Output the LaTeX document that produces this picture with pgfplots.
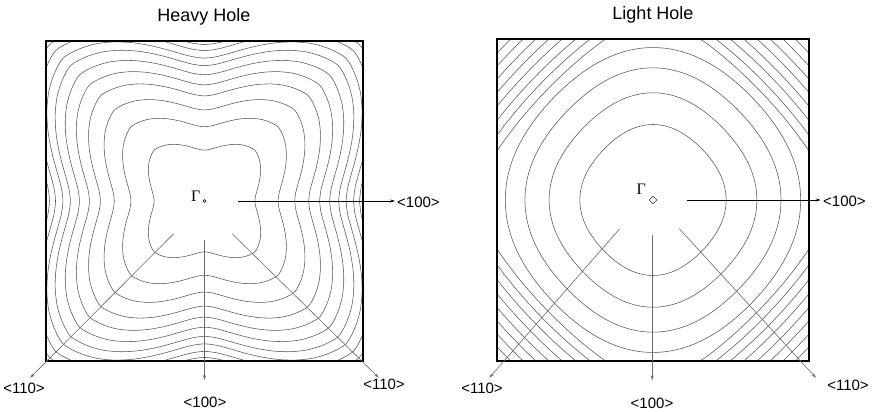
\documentclass[border=0pt]{standalone}
\usepackage{pgfplots}
\pgfplotsset{compat=1.18}
\usepackage{pgfplotstable}
\usepackage{fontspec}
\setmainfont{Liberation Sans}
\newfontfamily\serif{Liberation Serif}
\usetikzlibrary{arrows.meta}
\definecolor{cont}{HTML}{555555}
\definecolor{arr}{HTML}{6A6A6A}

% unit heavy-hole contour shape (axis radius = 1)
\pgfplotstableread{
x y
1.0000 0.0000
1.0107 0.0885
1.0354 0.1825
1.0645 0.2852
1.0907 0.3970
1.1087 0.5170
1.1134 0.6428
1.0994 0.7698
1.0615 0.8907
0.9994 0.9994
0.8907 1.0615
0.7698 1.0994
0.6428 1.1134
0.5170 1.1087
0.3970 1.0907
0.2852 1.0645
0.1825 1.0354
0.0885 1.0107
0.0000 1.0000
-0.0885 1.0107
-0.1825 1.0354
-0.2852 1.0645
-0.3970 1.0907
-0.5170 1.1087
-0.6428 1.1134
-0.7698 1.0994
-0.8907 1.0615
-0.9994 0.9994
-1.0615 0.8907
-1.0994 0.7698
-1.1134 0.6428
-1.1087 0.5170
-1.0907 0.3970
-1.0645 0.2852
-1.0354 0.1825
-1.0107 0.0885
-1.0000 0.0000
-1.0107 -0.0885
-1.0354 -0.1825
-1.0645 -0.2852
-1.0907 -0.3970
-1.1087 -0.5170
-1.1134 -0.6428
-1.0994 -0.7698
-1.0615 -0.8907
-0.9994 -0.9994
-0.8907 -1.0615
-0.7698 -1.0994
-0.6428 -1.1134
-0.5170 -1.1087
-0.3970 -1.0907
-0.2852 -1.0645
-0.1825 -1.0354
-0.0885 -1.0107
0.0000 -1.0000
0.0885 -1.0107
0.1825 -1.0354
0.2852 -1.0645
0.3970 -1.0907
0.5170 -1.1087
0.6428 -1.1134
0.7698 -1.0994
0.8907 -1.0615
0.9994 -0.9994
1.0615 -0.8907
1.0994 -0.7698
1.1134 -0.6428
1.1087 -0.5170
1.0907 -0.3970
1.0645 -0.2852
1.0354 -0.1825
1.0107 -0.0885
1.0000 0.0000
}\hhshape

% unit light-hole inner contour shape (rounded)
\pgfplotstableread{
x y
1.0000 0.0000
0.9947 0.0871
0.9790 0.1726
0.9538 0.2556
0.9203 0.3349
0.8797 0.4102
0.8335 0.4813
0.7830 0.5483
0.7289 0.6116
0.6718 0.6718
0.6116 0.7289
0.5483 0.7830
0.4813 0.8335
0.4102 0.8797
0.3349 0.9203
0.2556 0.9538
0.1726 0.9790
0.0871 0.9947
0.0000 1.0000
-0.0871 0.9947
-0.1726 0.9790
-0.2556 0.9538
-0.3349 0.9203
-0.4102 0.8797
-0.4813 0.8335
-0.5483 0.7830
-0.6116 0.7289
-0.6718 0.6718
-0.7289 0.6116
-0.7830 0.5483
-0.8335 0.4813
-0.8797 0.4102
-0.9203 0.3349
-0.9538 0.2556
-0.9790 0.1726
-0.9947 0.0871
-1.0000 0.0000
-0.9947 -0.0871
-0.9790 -0.1726
-0.9538 -0.2556
-0.9203 -0.3349
-0.8797 -0.4102
-0.8335 -0.4813
-0.7830 -0.5483
-0.7289 -0.6116
-0.6718 -0.6718
-0.6116 -0.7289
-0.5483 -0.7830
-0.4813 -0.8335
-0.4102 -0.8797
-0.3349 -0.9203
-0.2556 -0.9538
-0.1726 -0.9790
-0.0871 -0.9947
0.0000 -1.0000
0.0871 -0.9947
0.1726 -0.9790
0.2556 -0.9538
0.3349 -0.9203
0.4102 -0.8797
0.4813 -0.8335
0.5483 -0.7830
0.6116 -0.7289
0.6718 -0.6718
0.7289 -0.6116
0.7830 -0.5483
0.8335 -0.4813
0.8797 -0.4102
0.9203 -0.3349
0.9538 -0.2556
0.9790 -0.1726
0.9947 -0.0871
1.0000 0.0000
}\lhround

% unit light-hole outer contour shape (diamond-like)
\pgfplotstableread{
x y
1.0000 0.0000
0.9843 0.0861
0.9478 0.1671
0.9031 0.2420
0.8553 0.3113
0.8064 0.3760
0.7568 0.4369
0.7065 0.4947
0.6556 0.5501
0.6035 0.6035
0.5501 0.6556
0.4947 0.7065
0.4369 0.7568
0.3760 0.8064
0.3113 0.8553
0.2420 0.9031
0.1671 0.9478
0.0861 0.9843
0.0000 1.0000
-0.0861 0.9843
-0.1671 0.9478
-0.2420 0.9031
-0.3113 0.8553
-0.3760 0.8064
-0.4369 0.7568
-0.4947 0.7065
-0.5501 0.6556
-0.6035 0.6035
-0.6556 0.5501
-0.7065 0.4947
-0.7568 0.4369
-0.8064 0.3760
-0.8553 0.3113
-0.9031 0.2420
-0.9478 0.1671
-0.9843 0.0861
-1.0000 0.0000
-0.9843 -0.0861
-0.9478 -0.1671
-0.9031 -0.2420
-0.8553 -0.3113
-0.8064 -0.3760
-0.7568 -0.4369
-0.7065 -0.4947
-0.6556 -0.5501
-0.6035 -0.6035
-0.5501 -0.6556
-0.4947 -0.7065
-0.4369 -0.7568
-0.3760 -0.8064
-0.3113 -0.8553
-0.2420 -0.9031
-0.1671 -0.9478
-0.0861 -0.9843
0.0000 -1.0000
0.0861 -0.9843
0.1671 -0.9478
0.2420 -0.9031
0.3113 -0.8553
0.3760 -0.8064
0.4369 -0.7568
0.4947 -0.7065
0.5501 -0.6556
0.6035 -0.6035
0.6556 -0.5501
0.7065 -0.4947
0.7568 -0.4369
0.8064 -0.3760
0.8553 -0.3113
0.9031 -0.2420
0.9478 -0.1671
0.9843 -0.0861
1.0000 0.0000
}\lhshape

\begin{document}
\begin{tikzpicture}
\useasboundingbox (0pt,0pt) rectangle (873pt,412pt);
% ---------------- Heavy hole ----------------
\begin{axis}[at={(46pt,51pt)}, anchor=south west, scale only axis,
  width=317pt, height=320pt, xmin=-1, xmax=1, ymin=-1, ymax=1,
  xtick=\empty, ytick=\empty, axis on top,
  axis line style={line width=1.1pt, black}]
\pgfplotsinvokeforeach{0.318,0.464,0.569,0.657,0.726,0.789,0.846,0.893,0.940,0.978}{
  \addplot[no marks, smooth, cont, line width=0.55pt]
    table[x expr=\thisrow{x}*#1, y expr=\thisrow{y}*#1] {\hhshape};
}
\addplot[only marks, mark=o, mark size=1.5pt, black, line width=0.4pt] coordinates {(0,0)};
\coordinate (hR0) at (axis cs:0.211,0);
\coordinate (hR1) at (axis cs:1.202,0);
\coordinate (hL0) at (axis cs:-0.195,-0.205);
\coordinate (hL1) at (axis cs:-1.10,-1.105);
\coordinate (hM0) at (axis cs:0,-0.244);
\coordinate (hM1) at (axis cs:0,-1.12);
\coordinate (hD0) at (axis cs:0.175,-0.205);
\coordinate (hD1) at (axis cs:1.10,-1.105);
\coordinate (hG) at (axis cs:-0.055,0.03);
\end{axis}
% ---------------- Light hole ----------------
\begin{axis}[at={(497pt,51pt)}, anchor=south west, scale only axis,
  width=312pt, height=322pt, xmin=-1, xmax=1, ymin=-1, ymax=1,
  xtick=\empty, ytick=\empty, axis on top,
  axis line style={line width=1.1pt, black}]
\pgfplotsinvokeforeach{0.469,0.666,0.821,0.947}{
  \addplot[no marks, smooth, cont, line width=0.55pt]
    table[x expr=\thisrow{x}*#1, y expr=\thisrow{y}*#1] {\lhround};
}
\pgfplotsinvokeforeach{1.130,1.195,1.260,1.325,1.390,1.455,1.520,1.585}{
  \addplot[no marks, smooth, cont, line width=0.55pt]
    table[x expr=\thisrow{x}*#1, y expr=\thisrow{y}*#1] {\lhshape};
}
\addplot[only marks, mark=square, mark size=2.7pt, mark options={rotate=45}, black, line width=0.4pt] coordinates {(0,0)};
\coordinate (lR0) at (axis cs:0.218,0);
\coordinate (lR1) at (axis cs:1.075,0);
\coordinate (lL0) at (axis cs:-0.215,-0.18);
\coordinate (lL1) at (axis cs:-1.05,-1.105);
\coordinate (lM0) at (axis cs:-0.005,-0.217);
\coordinate (lM1) at (axis cs:-0.005,-1.12);
\coordinate (lD0) at (axis cs:0.168,-0.178);
\coordinate (lD1) at (axis cs:1.045,-1.105);
\coordinate (lG) at (axis cs:-0.075,0.065);
\end{axis}
% arrows
\tikzset{ar/.style={-{Stealth[length=5pt,width=3pt]}, line width=0.6pt}}
\draw[ar, black] (hR0) -- (hR1);
\draw[ar, arr] (hL0) -- (hL1);
\draw[ar, arr] (hM0) -- (hM1);
\draw[ar, arr] (hD0) -- (hD1);
\draw[ar, black] (lR0) -- (lR1);
\draw[ar, arr] (lL0) -- (lL1);
\draw[ar, arr] (lM0) -- (lM1);
\draw[ar, arr] (lD0) -- (lD1);
% Gamma labels
\node[font=\serif\fontsize{16}{16}\selectfont, inner sep=0pt] at (hG) {Γ};
\node[font=\serif\fontsize{16}{16}\selectfont, inner sep=0pt] at (lG) {Γ};
% titles
\node[font=\fontsize{18}{18}\selectfont] at (204pt,395pt) {Heavy Hole};
\node[font=\fontsize{18}{18}\selectfont] at (653pt,397pt) {Light Hole};
% direction labels
\tikzset{dl/.style={font=\fontsize{15}{15}\selectfont, inner sep=0pt}}
\node[dl, anchor=west] at (397pt,210pt) {<100>};
\node[dl] at (24pt,24pt) {<110>};
\node[dl] at (205pt,10pt) {<100>};
\node[dl] at (384pt,28pt) {<110>};
\node[dl, anchor=west] at (823pt,211pt) {<100>};
\node[dl] at (482pt,24pt) {<110>};
\node[dl] at (652pt,9pt) {<100>};
\node[dl] at (848pt,27pt) {<110>};
\end{tikzpicture}
\end{document}
